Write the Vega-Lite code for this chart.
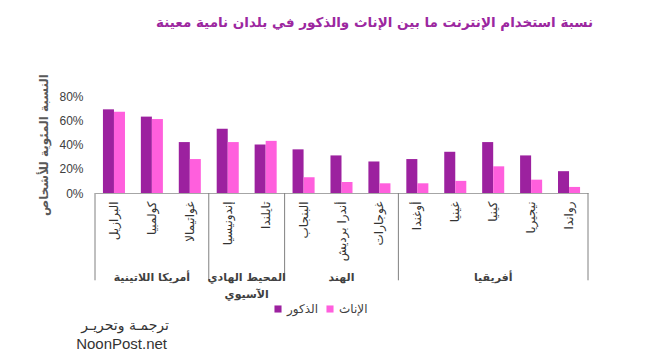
{
  "$schema": "https://vega.github.io/schema/vega-lite/v6.json",
  "width": 493,
  "height": 97,
  "autosize": {"type": "none"},
  "padding": {"left": 95, "top": 96, "right": 82, "bottom": 164},
  "background": "white",
  "config": {"view": {"stroke": null}, "font": "DejaVu Sans"},
  "title": {
    "text": "نسبة استخدام الإنترنت ما بين الإناث والذكور في بلدان نامية معينة",
    "fontSize": 13.5,
    "fontWeight": "bold",
    "color": "#9c27a0",
    "font": "DejaVu Sans",
    "anchor": "middle",
    "dx": 33,
    "offset": 44
  },
  "datasets": {
    "bars": [
      {"country": "البرازيل", "group": "أمريكا اللاتينية", "gender": "الذكور", "value": 0.69},
      {"country": "البرازيل", "group": "أمريكا اللاتينية", "gender": "الإناث", "value": 0.67},
      {"country": "كولمبيا", "group": "أمريكا اللاتينية", "gender": "الذكور", "value": 0.63},
      {"country": "كولمبيا", "group": "أمريكا اللاتينية", "gender": "الإناث", "value": 0.61},
      {"country": "غواتيمالا", "group": "أمريكا اللاتينية", "gender": "الذكور", "value": 0.42},
      {"country": "غواتيمالا", "group": "أمريكا اللاتينية", "gender": "الإناث", "value": 0.28},
      {"country": "إندونيسيا", "group": "المحيط الهادي الآسيوي", "gender": "الذكور", "value": 0.53},
      {"country": "إندونيسيا", "group": "المحيط الهادي الآسيوي", "gender": "الإناث", "value": 0.42},
      {"country": "تايلندا", "group": "المحيط الهادي الآسيوي", "gender": "الذكور", "value": 0.40},
      {"country": "تايلندا", "group": "المحيط الهادي الآسيوي", "gender": "الإناث", "value": 0.43},
      {"country": "البنجاب", "group": "الهند", "gender": "الذكور", "value": 0.36},
      {"country": "البنجاب", "group": "الهند", "gender": "الإناث", "value": 0.13},
      {"country": "أندرا برديش", "group": "الهند", "gender": "الذكور", "value": 0.31},
      {"country": "أندرا برديش", "group": "الهند", "gender": "الإناث", "value": 0.09},
      {"country": "غوجارات", "group": "الهند", "gender": "الذكور", "value": 0.26},
      {"country": "غوجارات", "group": "الهند", "gender": "الإناث", "value": 0.08},
      {"country": "أوغندا", "group": "أفريقيا", "gender": "الذكور", "value": 0.28},
      {"country": "أوغندا", "group": "أفريقيا", "gender": "الإناث", "value": 0.08},
      {"country": "غينيا", "group": "أفريقيا", "gender": "الذكور", "value": 0.34},
      {"country": "غينيا", "group": "أفريقيا", "gender": "الإناث", "value": 0.10},
      {"country": "كينيا", "group": "أفريقيا", "gender": "الذكور", "value": 0.42},
      {"country": "كينيا", "group": "أفريقيا", "gender": "الإناث", "value": 0.22},
      {"country": "نيجيريا", "group": "أفريقيا", "gender": "الذكور", "value": 0.31},
      {"country": "نيجيريا", "group": "أفريقيا", "gender": "الإناث", "value": 0.11},
      {"country": "رواندا", "group": "أفريقيا", "gender": "الذكور", "value": 0.18},
      {"country": "رواندا", "group": "أفريقيا", "gender": "الإناث", "value": 0.05}
    ],
    "groupStarts": [
      {"country": "البرازيل"},
      {"country": "إندونيسيا"},
      {"country": "البنجاب"},
      {"country": "أوغندا"}
    ],
    "groupEnd": [
      {"country": "رواندا"}
    ],
    "groupLabelsCentered": [
      {"country": "كولمبيا", "label": "أمريكا اللاتينية"},
      {"country": "أندرا برديش", "label": "الهند"},
      {"country": "كينيا", "label": "أفريقيا"}
    ],
    "groupLabelsEdge": [
      {"country": "إندونيسيا", "label": "المحيط الهادي\nالآسيوي"}
    ],
    "logoArabic": [
      {"country": "كولمبيا", "label": "ترجمـة وتحريـر"}
    ],
    "logoLatin": [
      {"country": "كولمبيا", "label": "NoonPost.net"}
    ]
  },
  "layer": [
    {
      "data": {"name": "bars"},
      "mark": {"type": "bar"},
      "encoding": {
        "x": {
          "field": "country",
          "type": "nominal",
          "sort": null,
          "scale": {
            "domain": ["البرازيل", "كولمبيا", "غواتيمالا", "إندونيسيا", "تايلندا", "البنجاب", "أندرا برديش", "غوجارات", "أوغندا", "غينيا", "كينيا", "نيجيريا", "رواندا"],
            "paddingInner": 0,
            "paddingOuter": 0
          },
          "axis": {
            "title": null,
            "ticks": false,
            "labelAngle": -90,
            "labelFontSize": 12,
            "labelColor": "#333333",
            "labelFont": "DejaVu Sans",
            "labelPadding": 8,
            "labelOverlap": false,
            "domainColor": "#a6a6a6"
          }
        },
        "xOffset": {
          "field": "gender",
          "type": "nominal",
          "sort": ["الذكور", "الإناث"],
          "scale": {"paddingInner": 0, "paddingOuter": 0.72}
        },
        "y": {
          "field": "value",
          "type": "quantitative",
          "scale": {"domain": [0, 0.8], "nice": false},
          "axis": {
            "values": [0, 0.2, 0.4, 0.6, 0.8],
            "tickCount": 5,
            "format": ".0%",
            "ticks": false,
            "domain": false,
            "grid": false,
            "labelOverlap": false,
            "labelPadding": 12,
            "labelFontSize": 12,
            "labelColor": "#404040",
            "labelFont": "Liberation Sans",
            "title": "النسبة المئوية للأشخاص",
            "titleFontSize": 12,
            "titleFontWeight": "bold",
            "titleColor": "#595959",
            "titleFont": "DejaVu Sans",
            "titlePadding": 8
          }
        },
        "color": {
          "field": "gender",
          "type": "nominal",
          "scale": {"domain": ["الذكور", "الإناث"], "range": ["#9c219f", "#ff5fdd"]},
          "legend": {
            "title": null,
            "orient": "none",
            "legendX": 177,
            "legendY": 207,
            "direction": "horizontal",
            "symbolType": "square",
            "symbolSize": 50,
            "symbolStrokeWidth": 0,
            "labelFontSize": 12,
            "labelColor": "#404040",
            "labelFont": "DejaVu Sans",
            "columnPadding": 6,
            "labelOffset": 3
          }
        }
      }
    },
    {
      "data": {"name": "groupStarts"},
      "mark": {"type": "rule", "color": "#808080", "strokeWidth": 1},
      "encoding": {
        "x": {"field": "country", "type": "nominal", "bandPosition": 0},
        "y": {"datum": 0, "type": "quantitative", "axis": {"values": [0, 0.2, 0.4, 0.6, 0.8], "tickCount": 5, "labelOverlap": false}},
        "y2": {"datum": -0.72}
      }
    },
    {
      "data": {"name": "groupEnd"},
      "mark": {"type": "rule", "color": "#808080", "strokeWidth": 1},
      "encoding": {
        "x": {"field": "country", "type": "nominal", "bandPosition": 1},
        "y": {"datum": 0, "type": "quantitative", "axis": {"values": [0, 0.2, 0.4, 0.6, 0.8], "tickCount": 5, "labelOverlap": false}},
        "y2": {"datum": -0.72}
      }
    },
    {
      "data": {"name": "groupLabelsCentered"},
      "mark": {"type": "text", "align": "center", "baseline": "top", "fontSize": 11, "fontWeight": "bold", "color": "#404040", "font": "DejaVu Sans", "lineBreak": "\n", "lineHeight": 17},
      "encoding": {
        "x": {"field": "country", "type": "nominal", "bandPosition": 0.5},
        "y": {"datum": -0.65, "type": "quantitative", "axis": {"values": [0, 0.2, 0.4, 0.6, 0.8], "tickCount": 5, "labelOverlap": false}},
        "text": {"field": "label"}
      }
    },
    {
      "data": {"name": "groupLabelsEdge"},
      "mark": {"type": "text", "align": "center", "baseline": "top", "fontSize": 11, "fontWeight": "bold", "color": "#404040", "font": "DejaVu Sans", "lineBreak": "\n", "lineHeight": 17},
      "encoding": {
        "x": {"field": "country", "type": "nominal", "bandPosition": 1},
        "y": {"datum": -0.65, "type": "quantitative", "axis": {"values": [0, 0.2, 0.4, 0.6, 0.8], "tickCount": 5, "labelOverlap": false}},
        "text": {"field": "label"}
      }
    },
    {
      "data": {"name": "logoArabic"},
      "mark": {"type": "text", "align": "right", "baseline": "middle", "fontSize": 14, "color": "#333333", "font": "DejaVu Sans"},
      "encoding": {
        "x": {"field": "country", "type": "nominal", "bandPosition": 0.95},
        "y": {"datum": -1.1, "type": "quantitative", "axis": {"values": [0, 0.2, 0.4, 0.6, 0.8], "tickCount": 5, "labelOverlap": false}},
        "text": {"field": "label"}
      }
    },
    {
      "data": {"name": "logoLatin"},
      "mark": {"type": "text", "align": "right", "baseline": "middle", "fontSize": 15, "color": "#333333", "font": "Liberation Sans"},
      "encoding": {
        "x": {"field": "country", "type": "nominal", "bandPosition": 0.9},
        "y": {"datum": -1.245, "type": "quantitative", "axis": {"values": [0, 0.2, 0.4, 0.6, 0.8], "tickCount": 5, "labelOverlap": false}},
        "text": {"field": "label"}
      }
    }
  ]
}
